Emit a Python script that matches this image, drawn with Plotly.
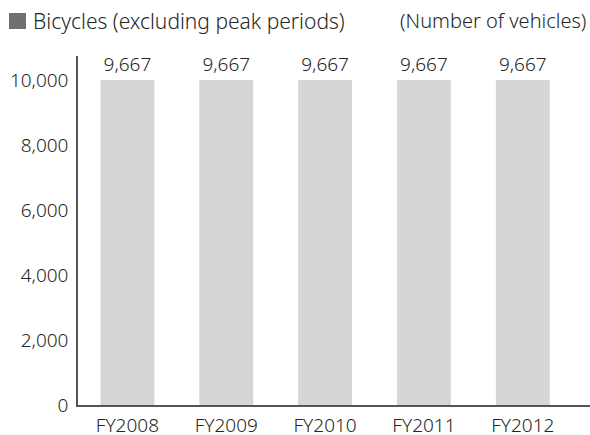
import plotly.graph_objects as go

categories = ["FY2008", "FY2009", "FY2010", "FY2011", "FY2012"]
# bar heights as drawn in the reference, and their printed labels
bar_values = [10000, 10000, 10000, 10000, 10000]
bar_labels = ["9,667", "9,667", "9,667", "9,667", "9,667"]
y_ticks = [0, 2000, 4000, 6000, 8000, 10000]
y_tick_labels = ["0", "2,000", "4,000", "6,000", "8,000", "10,000"]

FONT = "Noto Sans"
TXT = "#262626"
FS = 19
W = 300

PL, PT, PW, PH = 78, 56, 512, 349   # plot area in pixels


def px(x):
    return (x - PL) / PW


def py(y):
    return (PT + PH - y) / PH


def f(size=FS):
    return dict(family=FONT, size=size, color=TXT, weight=W)


fig = go.Figure()
fig.add_trace(go.Bar(
    x=list(range(len(categories))),
    y=bar_values,
    text=bar_labels,
    textposition="outside",
    textfont=f(),
    marker=dict(color="#d6d6d6", line=dict(width=0)),
    width=0.545,
    cliponaxis=False,
    hoverinfo="skip",
))

fig.update_layout(
    width=590, height=435,
    margin=dict(l=PL, r=0, t=PT, b=30, pad=0),
    paper_bgcolor="white", plot_bgcolor="white",
    showlegend=False,
    font=f(),
    xaxis=dict(
        range=[-0.5, 4.68],
        tickmode="array",
        tickvals=list(range(len(categories))),
        ticktext=categories,
        showline=True, linecolor="#555555", linewidth=1.5,
        showgrid=False, zeroline=False, ticks="",
        ticklabelstandoff=2,
        tickfont=f(),
        automargin=False,
        fixedrange=True,
    ),
    yaxis=dict(
        range=[0, 10740],
        tickmode="array",
        tickvals=y_ticks,
        ticktext=y_tick_labels,
        showline=True, linecolor="#555555", linewidth=1.5,
        showgrid=False, zeroline=False, ticks="",
        ticklabelstandoff=4,
        tickfont=f(),
        automargin=False,
        fixedrange=True,
    ),
    shapes=[
        dict(type="rect", xref="paper", yref="paper",
             x0=px(9), x1=px(26), y0=py(29), y1=py(13),
             fillcolor="#707070", line=dict(width=0), layer="above"),
    ],
    annotations=[
        dict(text="Bicycles (excluding peak periods)",
             xref="paper", yref="paper", x=px(31), y=py(21),
             xanchor="left", yanchor="middle", showarrow=False,
             font=f(21)),
        dict(text="(Number of vehicles)",
             xref="paper", yref="paper", x=px(588), y=py(21),
             xanchor="right", yanchor="middle", showarrow=False,
             font=f(20)),
    ],
)

fig.write_html("out.html", config={"displayModeBar": False},
               post_script="document.body.style.margin='0';")
